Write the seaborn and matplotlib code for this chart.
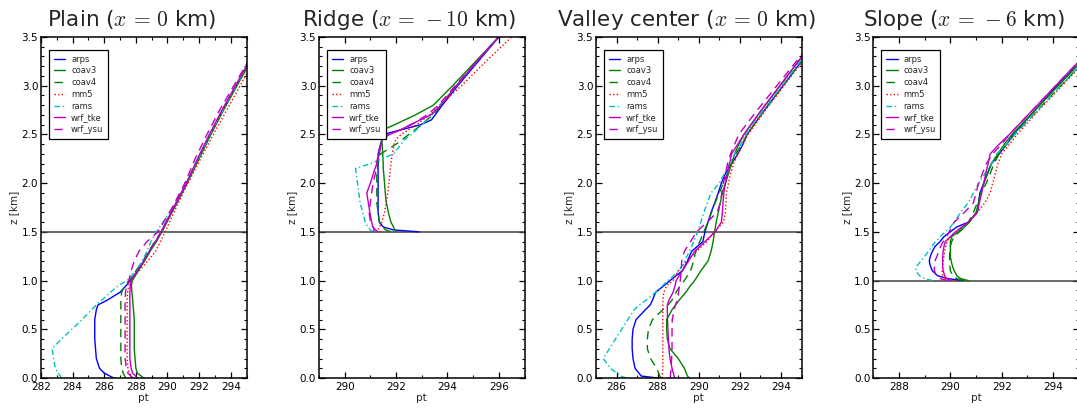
import matplotlib
matplotlib.use("Agg")
import matplotlib.pyplot as plt
from matplotlib.ticker import MultipleLocator
import pandas as pd
import seaborn as sns

models = ["arps", "coav3", "coav4", "mm5", "rams", "wrf_tke", "wrf_ysu"]
titles = [r"Plain ($x\,=\,0$ km)", r"Ridge ($x\,=\,-10$ km)",
          r"Valley center ($x\,=\,0$ km)", r"Slope ($x\,=\,-6$ km)"]
xlims = [(282, 295), (289, 297), (285, 295), (287, 295)]
ground_levels = [1.5, 1.5, 1.5, 1.0]

# ---------------- Plain ----------------
plain_z = [0.0, 0.05, 0.1, 0.2, 0.3, 0.4, 0.5, 0.6, 0.7, 0.75, 0.8, 0.88, 0.95, 1.0,
           1.1, 1.2, 1.3, 1.4, 1.5, 1.75, 2.0, 2.25, 2.5, 2.75, 3.0, 3.25, 3.5]
plain_arps = [286.6, 286.0, 285.7, 285.5, 285.45, 285.4, 285.4, 285.4, 285.5, 285.6, 286.2, 287.0, 287.4, 287.65,
              288.1, 288.5, 288.85, 289.25, 289.6, 290.4, 291.2, 291.95, 292.7, 293.5, 294.35, 295.2, 296.0]
plain_coav3 = [288.5, 288.1, 288.0, 287.95, 287.9, 287.9, 287.9, 287.9, 287.85, 287.82, 287.8, 287.75, 287.72, 287.78,
               288.15, 288.55, 288.9, 289.3, 289.65, 290.45, 291.25, 292.0, 292.75, 293.55, 294.4, 295.25, 296.05]
plain_coav4 = [287.35, 287.2, 287.1, 287.05, 287.05, 287.05, 287.05, 287.05, 287.05, 287.05, 287.05, 287.1, 287.3, 287.6,
               288.0, 288.45, 288.8, 289.2, 289.6, 290.4, 291.2, 291.95, 292.7, 293.5, 294.35, 295.2, 296.0]
plain_mm5 = [287.8, 287.6, 287.5, 287.45, 287.45, 287.45, 287.45, 287.45, 287.45, 287.45, 287.45, 287.48, 287.55, 287.7,
             288.2, 288.75, 289.25, 289.55, 289.85, 290.55, 291.3, 292.1, 292.9, 293.75, 294.6, 295.4, 296.2]
plain_rams = [283.3, 283.1, 282.9, 282.8, 282.7, 283.3, 283.95, 284.6, 285.2, 285.5, 285.85, 286.4, 286.9, 287.45,
              288.0, 288.4, 288.7, 288.95, 289.3, 290.35, 291.2, 291.95, 292.7, 293.5, 294.35, 295.2, 296.0]
plain_wrf_tke = [288.1, 287.8, 287.7, 287.62, 287.62, 287.62, 287.62, 287.62, 287.62, 287.62, 287.62, 287.62, 287.65, 287.7,
                 288.1, 288.5, 288.85, 289.25, 289.6, 290.4, 291.2, 291.9, 292.65, 293.45, 294.3, 295.15, 296.0]
plain_wrf_ysu = [287.8, 287.5, 287.4, 287.32, 287.32, 287.32, 287.32, 287.32, 287.32, 287.32, 287.32, 287.35, 287.4, 287.55,
                 287.7, 287.9, 288.2, 288.7, 289.4, 290.3, 291.1, 291.75, 292.5, 293.3, 294.2, 295.1, 295.9]

# ---------------- Ridge ----------------
ridge_z = [1.5, 1.52, 1.55, 1.6, 1.7, 1.8, 1.9, 2.0, 2.1, 2.15, 2.2, 2.3, 2.4, 2.45,
           2.5, 2.55, 2.6, 2.65, 2.7, 2.8, 3.0, 3.25, 3.5]
ridge_arps = [292.9, 291.9, 291.5, 291.35, 291.3, 291.3, 291.3, 291.3, 291.3, 291.3, 291.3, 291.3, 291.4, 291.45,
              291.5, 292.23, 292.96, 293.38, 293.52, 293.8, 294.4, 295.2, 296.0]
ridge_coav3 = [292.0, 291.95, 291.9, 291.8, 291.7, 291.62, 291.58, 291.55, 291.52, 291.5, 291.5, 291.48, 291.46, 291.45,
               291.45, 291.5, 291.95, 292.35, 292.75, 293.45, 294.2, 295.1, 296.0]
ridge_coav4 = [291.8, 291.6, 291.45, 291.35, 291.3, 291.25, 291.25, 291.25, 291.25, 291.27, 291.3, 291.4, 292.0, 292.25,
               292.5, 292.75, 293.0, 293.2, 293.45, 293.75, 294.35, 295.15, 296.0]
ridge_mm5 = [291.4, 291.3, 291.35, 291.45, 291.55, 291.62, 291.68, 291.72, 291.76, 291.78, 291.8, 291.85, 291.92, 292.0,
             292.2, 292.5, 292.8, 293.05, 293.3, 293.7, 294.55, 295.5, 296.5]
ridge_rams = [291.1, 291.0, 290.9, 290.8, 290.7, 290.6, 290.55, 290.5, 290.45, 290.42, 291.0, 291.9, 292.2, 292.35,
              292.6, 292.8, 293.0, 293.2, 293.4, 293.7, 294.35, 295.15, 295.95]
ridge_wrf_tke = [291.1, 291.15, 291.1, 291.05, 290.98, 290.92, 290.86, 291.0, 291.12, 291.18, 291.25, 291.35, 291.42, 291.45,
                 291.75, 292.2, 292.55, 292.95, 293.35, 293.75, 294.35, 295.15, 296.0]
ridge_wrf_ysu = [291.3, 291.2, 291.1, 291.0, 290.95, 291.0, 291.05, 291.1, 291.2, 291.22, 291.25, 291.3, 291.4, 291.5,
                 291.7, 292.2, 292.6, 292.9, 293.2, 293.65, 294.3, 295.15, 296.0]

# ---------------- Valley center ----------------
valley_z = [0.0, 0.02, 0.1, 0.2, 0.3, 0.4, 0.5, 0.6, 0.7, 0.75, 0.8, 0.88, 0.95, 1.0, 1.1, 1.2, 1.3, 1.4,
            1.5, 1.6, 1.7, 1.8, 1.9, 2.0, 2.1, 2.2, 2.3, 2.4, 2.5, 2.75, 3.0, 3.25, 3.5]
valley_arps = [288.0, 287.2, 286.9, 286.8, 286.76, 286.76, 286.8, 286.95, 287.4, 287.64, 287.75, 287.9, 288.32, 288.6,
               289.2, 289.45, 289.65, 290.2, 290.3, 290.45, 290.6, 290.78, 290.95, 291.1, 291.3, 291.6, 291.9, 292.15,
               292.35, 293.2, 294.1, 295.0, 295.9]
valley_coav3 = [289.55, 289.45, 289.3, 289.0, 288.6, 288.47, 288.44, 288.44, 288.7, 288.87, 289.05, 289.37, 289.6, 289.8,
                290.1, 290.45, 290.6, 290.7, 290.77, 290.85, 290.95, 291.05, 291.15, 291.3, 291.45, 291.6, 291.75, 291.95,
                292.2, 293.05, 293.95, 294.85, 295.75]
valley_coav4 = [288.15, 288.1, 287.95, 287.65, 287.5, 287.5, 287.55, 287.75, 288.25, 288.5, 288.7, 288.9, 289.1, 289.3,
                289.6, 289.75, 289.85, 290.05, 290.25, 290.45, 290.62, 290.8, 291.0, 291.2, 291.4, 291.6, 291.8, 292.1,
                292.35, 293.2, 294.1, 295.0, 295.9]
valley_mm5 = [288.2, 288.22, 288.25, 288.25, 288.25, 288.25, 288.25, 288.25, 288.25, 288.25, 288.25, 288.3, 288.45, 288.75,
              289.0, 289.4, 289.9, 290.4, 290.75, 291.2, 291.3, 291.33, 291.35, 291.45, 291.55, 291.7, 291.9, 292.15,
              292.4, 293.25, 294.15, 295.05, 296.0]
valley_rams = [286.47, 286.2, 285.7, 285.35, 285.65, 285.95, 286.25, 286.55, 286.86, 287.1, 287.45, 287.9, 288.25, 288.5,
               289.05, 289.3, 289.55, 289.75, 289.95, 290.1, 290.25, 290.42, 290.6, 291.0, 291.25, 291.5, 291.75, 292.05,
               292.3, 293.15, 294.05, 294.95, 295.85]
valley_wrf_tke = [288.85, 288.8, 288.7, 288.6, 288.55, 288.52, 288.5, 288.48, 288.47, 288.47, 288.55, 288.75, 288.85, 288.9,
                  289.2, 289.5, 289.8, 290.3, 290.8, 291.1, 291.15, 291.18, 291.22, 291.3, 291.4, 291.5, 291.6, 291.9,
                  292.2, 293.05, 293.95, 294.85, 295.75]
valley_wrf_ysu = [288.6, 288.62, 288.65, 288.68, 288.7, 288.7, 288.7, 288.71, 288.8, 288.87, 288.95, 289.02, 289.06, 289.1,
                  289.15, 289.17, 289.3, 289.6, 289.9, 290.4, 290.9, 291.05, 291.12, 291.2, 291.3, 291.4, 291.55, 291.75,
                  291.95, 292.85, 293.8, 294.75, 295.7]

# ---------------- Slope ----------------
slope_z = [1.0, 1.02, 1.05, 1.1, 1.15, 1.2, 1.25, 1.3, 1.35, 1.4, 1.45, 1.5, 1.55, 1.6, 1.7, 1.8, 1.9, 2.0,
           2.1, 2.2, 2.3, 2.4, 2.5, 2.75, 3.0, 3.25, 3.5]
slope_arps = [290.5, 289.9, 289.5, 289.3, 289.22, 289.18, 289.22, 289.3, 289.4, 289.6, 289.75, 290.0, 290.25, 290.7,
              291.05, 291.1, 291.15, 291.3, 291.45, 291.6, 291.9, 292.2, 292.45, 293.3, 294.15, 295.1, 296.0]
slope_coav3 = [290.7, 290.4, 290.25, 290.15, 290.08, 290.03, 290.0, 290.0, 290.0, 290.0, 290.05, 290.3, 290.55, 290.75,
               291.0, 291.1, 291.2, 291.3, 291.45, 291.6, 291.85, 292.1, 292.4, 293.3, 294.2, 295.1, 296.0]
slope_coav4 = [290.5, 290.25, 290.1, 290.0, 289.98, 289.97, 289.97, 289.98, 290.0, 290.05, 290.15, 290.35, 290.57, 290.7,
               290.9, 291.05, 291.2, 291.4, 291.55, 291.7, 291.9, 292.2, 292.5, 293.4, 294.3, 295.2, 296.1]
slope_mm5 = [290.2, 289.8, 289.7, 289.68, 289.7, 289.72, 289.75, 289.78, 289.82, 289.86, 290.0, 290.2, 290.45, 290.7,
             291.05, 291.35, 291.55, 291.65, 291.75, 291.85, 292.0, 292.3, 292.6, 293.45, 294.35, 295.25, 296.15]
slope_rams = [289.3, 289.0, 288.8, 288.65, 288.7, 288.85, 289.0, 289.15, 289.28, 289.42, 289.6, 289.8, 290.0, 290.15,
              290.4, 290.7, 290.9, 291.1, 291.35, 291.6, 291.8, 292.2, 292.5, 293.4, 294.3, 295.2, 296.1]
slope_wrf_tke = [290.0, 289.85, 289.78, 289.72, 289.7, 289.7, 289.7, 289.72, 289.75, 289.8, 290.0, 290.2, 290.45, 290.7,
                 291.05, 291.13, 291.22, 291.3, 291.38, 291.47, 291.55, 291.9, 292.3, 293.2, 294.1, 295.0, 295.9]
slope_wrf_ysu = [289.9, 289.6, 289.45, 289.38, 289.38, 289.4, 289.48, 289.55, 289.62, 289.72, 289.85, 289.95, 290.05, 290.15,
                 290.55, 290.9, 291.0, 291.1, 291.25, 291.4, 291.65, 292.0, 292.3, 293.2, 294.1, 295.0, 295.9]

panel_z = [plain_z, ridge_z, valley_z, slope_z]
panel_pt = [
    [plain_arps, plain_coav3, plain_coav4, plain_mm5, plain_rams, plain_wrf_tke, plain_wrf_ysu],
    [ridge_arps, ridge_coav3, ridge_coav4, ridge_mm5, ridge_rams, ridge_wrf_tke, ridge_wrf_ysu],
    [valley_arps, valley_coav3, valley_coav4, valley_mm5, valley_rams, valley_wrf_tke, valley_wrf_ysu],
    [slope_arps, slope_coav3, slope_coav4, slope_mm5, slope_rams, slope_wrf_tke, slope_wrf_ysu],
]

palette = {"arps": "#0000ff", "coav3": "#008000", "coav4": "#008000", "mm5": "#ff0000",
           "rams": "#00bfbf", "wrf_tke": "#bf00bf", "wrf_ysu": "#bf00bf"}
dashes = {"arps": "", "coav3": "", "coav4": (6, 4), "mm5": (1, 1.6),
          "rams": (4, 2, 1, 2), "wrf_tke": "", "wrf_ysu": (6, 4)}

sns.set_style("ticks")
plt.rcParams.update({
    "font.family": ["DejaVu Sans"],
    "mathtext.fontset": "cm",
    "xtick.direction": "in", "ytick.direction": "in",
    "xtick.top": True, "ytick.right": True,
    "xtick.major.size": 4, "ytick.major.size": 4,
    "xtick.minor.size": 2, "ytick.minor.size": 2,
    "xtick.major.width": 0.9, "ytick.major.width": 0.9,
    "xtick.minor.width": 0.8, "ytick.minor.width": 0.8,
    "axes.linewidth": 1.1,
    "axes.edgecolor": "black",
    "xtick.color": "black", "ytick.color": "black",
    "xtick.labelsize": 7.5, "ytick.labelsize": 7.5,
})

W, H = 1077, 408
fig = plt.figure(figsize=(W / 100, H / 100), dpi=100)
lefts = [41, 319, 596, 873.3]
ax_w, ax_top, ax_bot = 205.5, 37, 378

for i in range(4):
    ax = fig.add_axes([lefts[i] / W, 1 - ax_bot / H, ax_w / W, (ax_bot - ax_top) / H])
    rows = []
    for m, pts in zip(models, panel_pt[i]):
        for z, p in zip(panel_z[i], pts):
            rows.append({"model": m, "z": z, "pt": p})
    df = pd.DataFrame(rows)
    sns.lineplot(data=df, x="pt", y="z", hue="model", style="model", palette=palette,
                 dashes=dashes, hue_order=models, style_order=models, sort=False,
                 estimator=None, linewidth=1.0, ax=ax)
    ax.axhline(ground_levels[i], color="0.25", linewidth=1.1, zorder=1)
    ax.set_xlim(*xlims[i])
    ax.set_ylim(0, 3.5)
    ax.xaxis.set_major_locator(MultipleLocator(2))
    ax.xaxis.set_minor_locator(MultipleLocator(1))
    ax.yaxis.set_major_locator(MultipleLocator(0.5))
    ax.yaxis.set_minor_locator(MultipleLocator(0.1))
    ax.tick_params(which="both", direction="in", top=True, right=True)
    ax.tick_params(axis="x", pad=3.2)
    ax.tick_params(axis="y", pad=2)
    ax.set_xlabel("pt", fontsize=7.5, labelpad=0.5)
    ax.set_ylabel("z [km]", fontsize=7.5, labelpad=1.5)
    ax.set_title(titles[i], fontsize=15.5, pad=8, x=0.44)
    handles, labels = ax.get_legend_handles_labels()
    leg = ax.legend(handles, labels, loc="upper left", bbox_to_anchor=(0.039, 0.962),
                    borderaxespad=0, fontsize=6, handlelength=1.4, handletextpad=0.7,
                    labelspacing=0.33, borderpad=0.55, fancybox=False, framealpha=1,
                    edgecolor="black")
    leg.get_frame().set_linewidth(0.9)

fig.savefig("out.png", dpi=100)
